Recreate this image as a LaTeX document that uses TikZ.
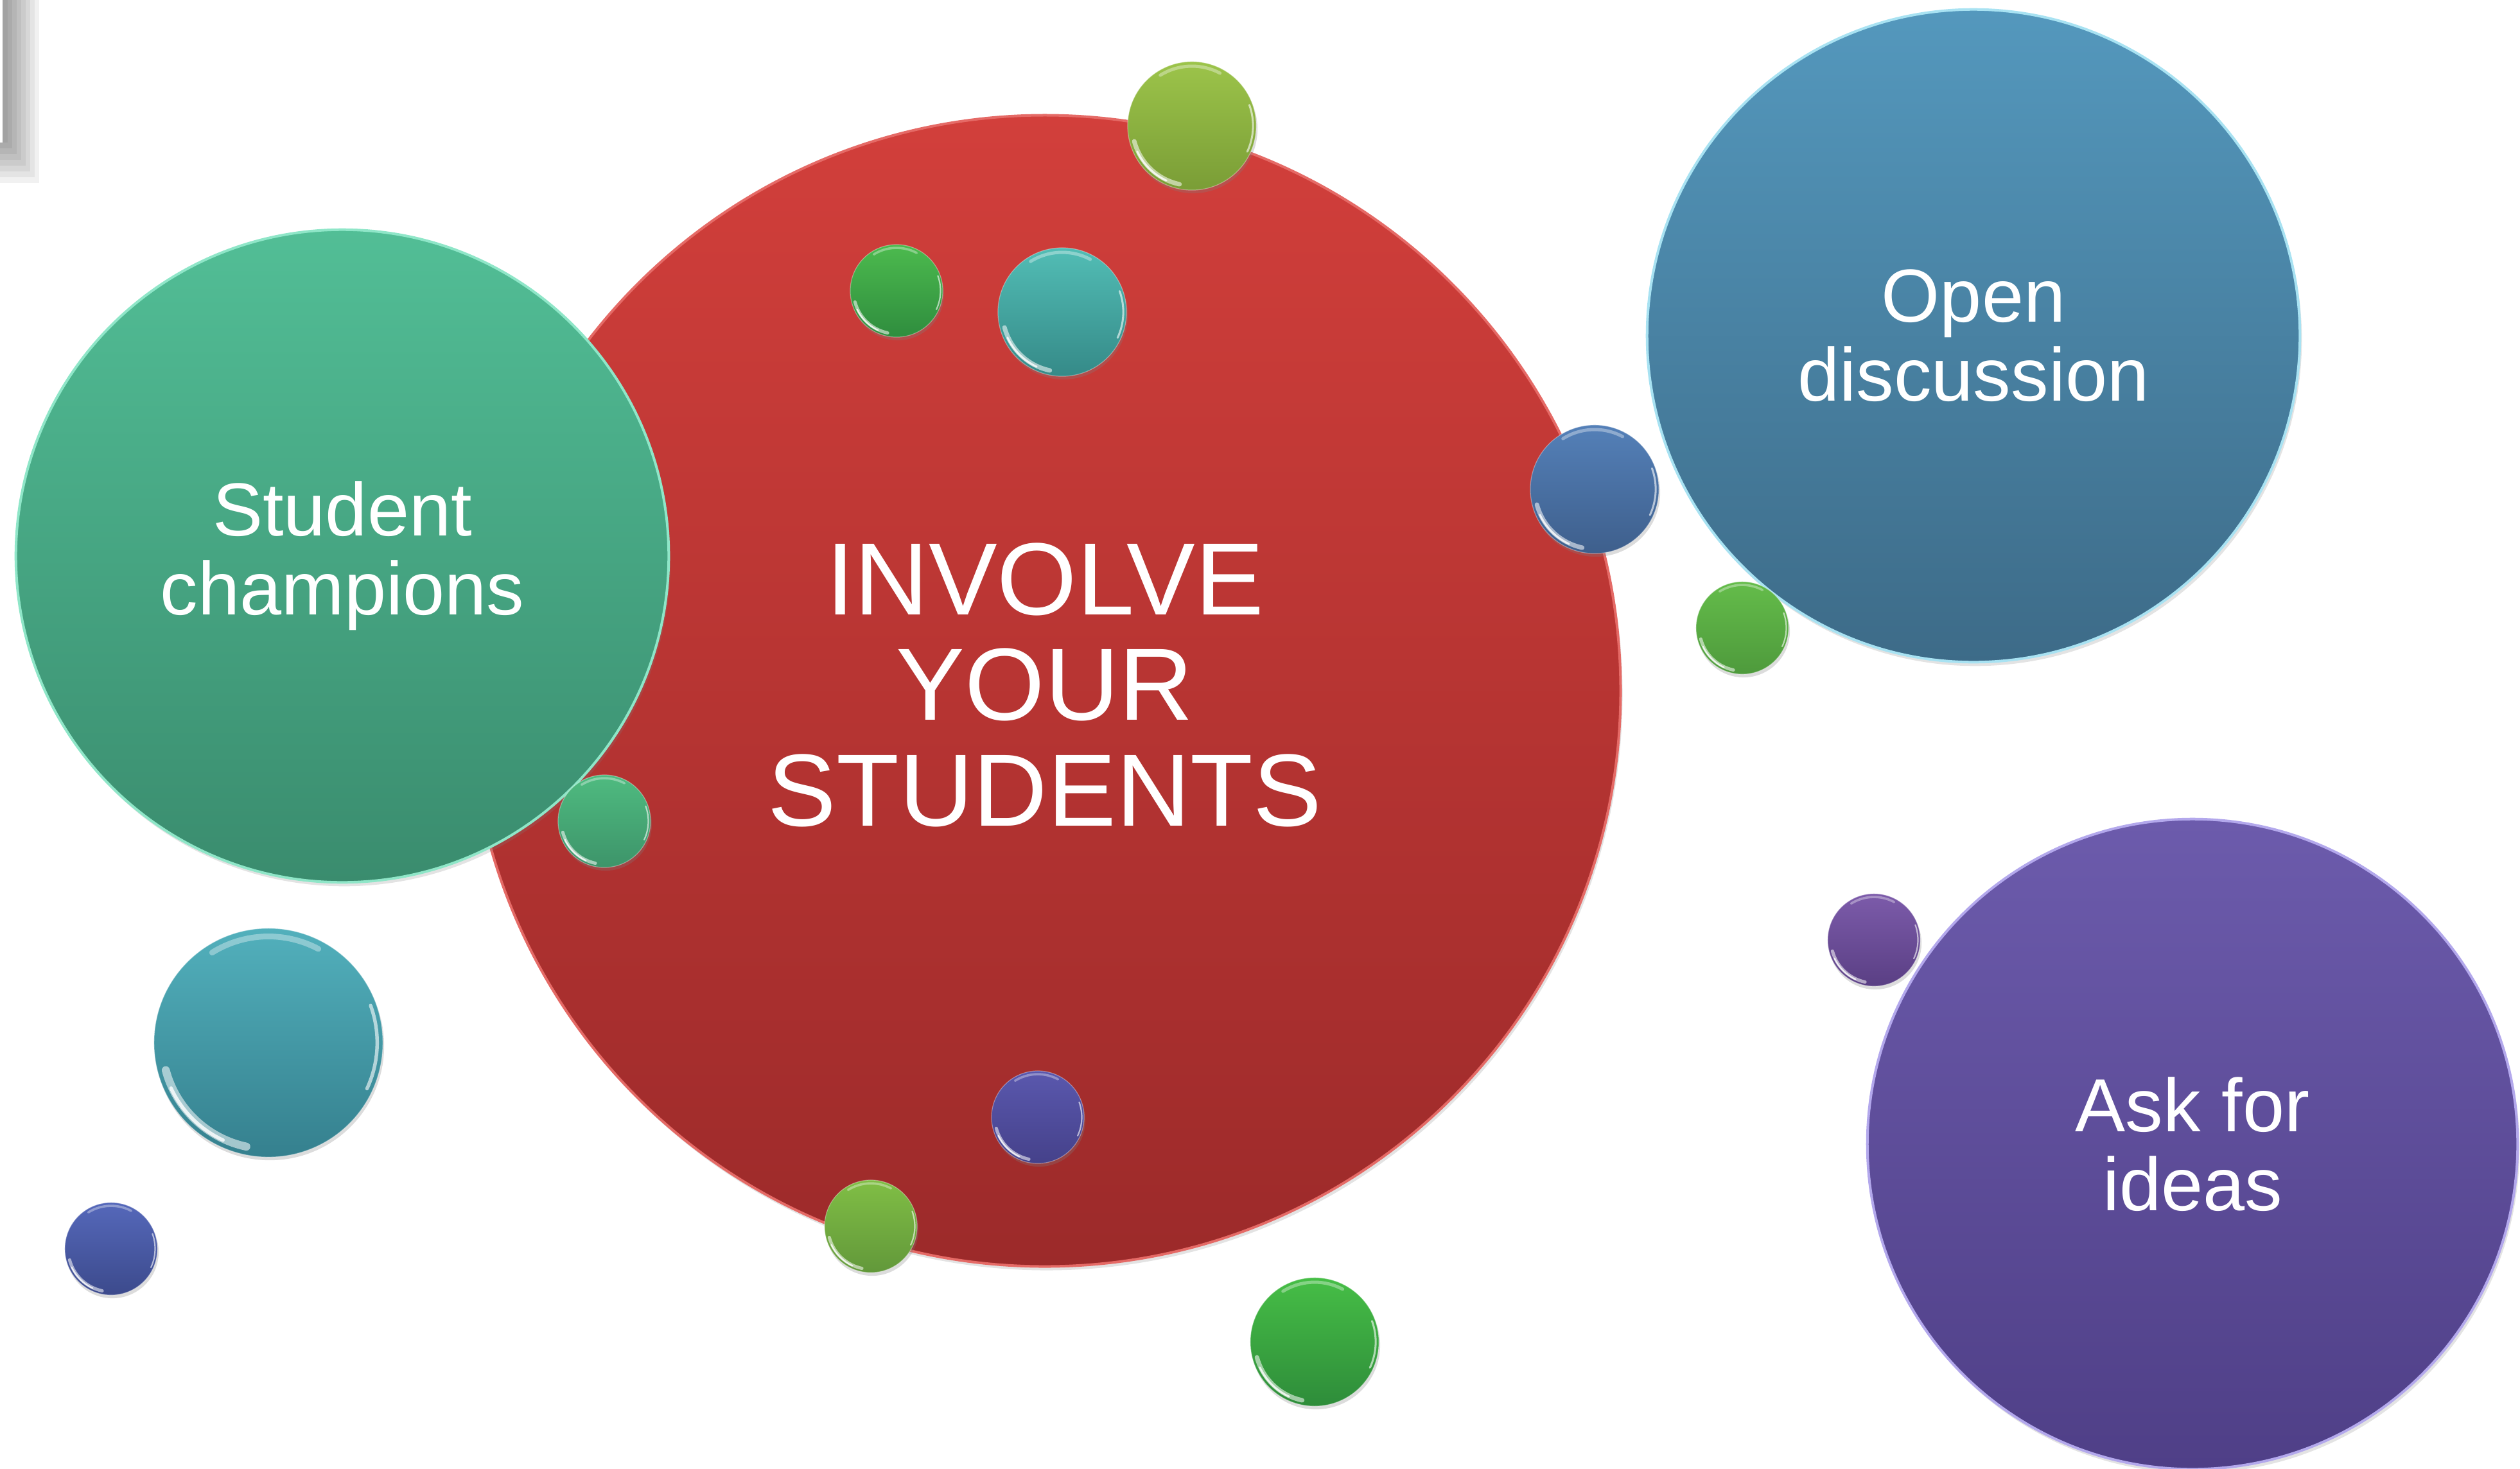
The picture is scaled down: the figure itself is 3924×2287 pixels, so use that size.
\documentclass[tikz,border=0pt]{standalone}
\usepackage{fontspec}
\setmainfont{Liberation Sans}
\usepackage{tikz}
\usetikzlibrary{calc, shadows}
\usepackage{xcolor}

\definecolor{rossoA}{HTML}{D23F3B}
\definecolor{rossoB}{HTML}{9C2A2A}
\definecolor{rossoL}{HTML}{E56A66}
\definecolor{verdeA}{HTML}{52BE96}
\definecolor{verdeB}{HTML}{3A8C6E}
\definecolor{verdeL}{HTML}{8FE6C8}
\definecolor{bluA}{HTML}{5498BD}
\definecolor{bluB}{HTML}{3D6B88}
\definecolor{bluL}{HTML}{A8E2F2}
\definecolor{violaA}{HTML}{6C5BAC}
\definecolor{violaB}{HTML}{4F3F87}
\definecolor{violaL}{HTML}{B3A8EC}
\definecolor{limeA}{HTML}{9CC44A}
\definecolor{limeB}{HTML}{7A9D36}
\definecolor{erbaA}{HTML}{4CBA4E}
\definecolor{erbaB}{HTML}{2F8D3E}
\definecolor{tealA}{HTML}{52BDB5}
\definecolor{tealB}{HTML}{358A88}
\definecolor{acciaioA}{HTML}{5480B8}
\definecolor{acciaioB}{HTML}{3E5F8C}
\definecolor{pratoA}{HTML}{64BC4A}
\definecolor{pratoB}{HTML}{4E9A3C}
\definecolor{smeraldoA}{HTML}{4FBB80}
\definecolor{smeraldoB}{HTML}{3D946A}
\definecolor{cianoA}{HTML}{52B0BC}
\definecolor{cianoB}{HTML}{35808E}
\definecolor{bluetteA}{HTML}{5568BA}
\definecolor{bluetteB}{HTML}{3C4A8C}
\definecolor{lillaA}{HTML}{7C5BAA}
\definecolor{lillaB}{HTML}{5A3F84}
\definecolor{indacoA}{HTML}{5A58AE}
\definecolor{indacoB}{HTML}{45418A}
\definecolor{melaA}{HTML}{80BE45}
\definecolor{melaB}{HTML}{62983A}
\definecolor{fogliaA}{HTML}{46BE46}
\definecolor{fogliaB}{HTML}{2E8C3A}

\tikzset{
    cerchio/.style = {circle, inner sep = 0pt, text = white, align = center, line width = 0.04cm,
        drop shadow = {opacity = 0.22, shadow xshift = 0.03cm, shadow yshift = -0.06cm}},
    bolla/.style = {circle, inner sep = 0pt, draw = white, draw opacity = 0.35, line width = 0.012cm,
        drop shadow = {opacity = 0.28, shadow xshift = 0.02cm, shadow yshift = -0.05cm}},
    riflesso/.style = {white, line cap = round, opacity = 0.55},
}

% bolla piccola: nome, x, y, raggio (px), colore alto, colore basso
\newcommand{\bolla}[6]{%
    \node[bolla, minimum size = #4*0.02cm, top color = #5, bottom color = #6] (#1) at (#2,#3) {};
    \draw[riflesso, line width = #4*0.0007cm] ($(#1.center)+(195:#4*0.0093cm)$) arc[start angle = 195, end angle = 258, radius = #4*0.0093cm];
    \draw[riflesso, line width = #4*0.0003cm, opacity = 0.8] ($(#1.center)+(205:#4*0.0094cm)$) arc[start angle = 205, end angle = 245, radius = #4*0.0094cm];
    \draw[riflesso, line width = #4*0.0005cm, opacity = 0.35] ($(#1.center)+(62:#4*0.0093cm)$) arc[start angle = 62, end angle = 122, radius = #4*0.0093cm];
    \draw[riflesso, line width = #4*0.0003cm, opacity = 0.6] ($(#1.center)+(-25:#4*0.0095cm)$) arc[start angle = -25, end angle = 20, radius = #4*0.0095cm];
}

\begin{document}
\begin{tikzpicture}[x = 0.01cm, y = -0.01cm]
    % Parametri
    \pgfmathsetmacro{\dgrande}{17.92}
    \pgfmathsetmacro{\dmedio}{10.16}
    \useasboundingbox (0,0) rectangle (3924,2287);

    % Ombra in alto a sinistra
    \foreach \k in {0,...,7}{
        \fill[black, opacity = 0.055] (-10,-10) rectangle ({12+7*\k},{222+9*\k});
    }
    \fill[white] (-10,-10) rectangle (4,222);

    % Cerchi grandi
    \node[cerchio, minimum size = \dgrande cm, top color = rossoA, bottom color = rossoB, draw = rossoL,
        font = \fontsize{45.5}{46.7}\selectfont] (centro) at (1627,1076) {INVOLVE\\YOUR\\STUDENTS\rule[-0.2cm]{0pt}{0.2cm}};
    \node[cerchio, minimum size = \dmedio cm, top color = verdeA, bottom color = verdeB, draw = verdeL,
        font = \fontsize{33.3}{35}\selectfont] (campioni) at (533,866) {Student\\champions};

    % Bolle sul cerchio centrale
    \bolla{b1}{1856}{196}{100}{limeA}{limeB}
    \bolla{b2}{1396}{453}{72}{erbaA}{erbaB}
    \bolla{b3}{1654}{486}{100}{tealA}{tealB}
    \bolla{b6}{941}{1279}{72}{smeraldoA}{smeraldoB}
    \bolla{b10}{1616}{1740}{72}{indacoA}{indacoB}
    \bolla{b11}{1356}{1910}{72}{melaA}{melaB}

    \node[cerchio, minimum size = \dmedio cm, top color = bluA, bottom color = bluB, draw = bluL,
        font = \fontsize{33.3}{35}\selectfont] (discussione) at (3073,523) {Open\\discussion};
    \node[cerchio, minimum size = 10.12cm, top color = violaA, bottom color = violaB, draw = violaL,
        font = \fontsize{33.3}{35}\selectfont] (idee) at (3414,1782) {Ask for\\ideas};

    % Altre bolle
    \bolla{b4}{2483}{762}{100}{acciaioA}{acciaioB}
    \bolla{b5}{2713}{978}{72}{pratoA}{pratoB}
    \bolla{b7}{418}{1624}{178}{cianoA}{cianoB}
    \bolla{b8}{173}{1945}{72}{bluetteA}{bluetteB}
    \bolla{b9}{2918}{1464}{72}{lillaA}{lillaB}
    \bolla{b12}{2047}{2090}{100}{fogliaA}{fogliaB}
\end{tikzpicture}
\end{document}
